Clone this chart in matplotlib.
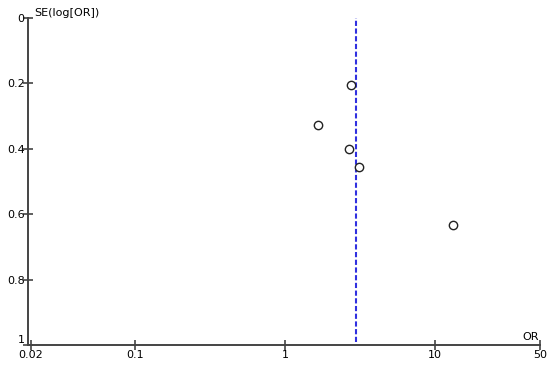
import matplotlib
matplotlib.use("Agg")
import matplotlib.pyplot as plt

# study estimates (odds ratio, standard error of log OR)
odds_ratio = [2.75, 1.65, 2.64, 3.10, 13.1]
se_log_or = [0.206, 0.328, 0.400, 0.457, 0.634]
pooled_or = 2.97

x_ticks = [0.02, 0.1, 1, 10, 50]
x_tick_labels = ["0.02", "0.1", "1", "10", "50"]
y_ticks = [0, 0.2, 0.4, 0.6, 0.8, 1]
y_tick_labels = ["0", "0.2", "0.4", "0.6", "0.8", "1"]

fig = plt.figure(figsize=(5.5, 3.67), dpi=100)
ax = fig.add_axes([0.051, 0.06, 0.931, 0.891])

ax.set_xscale("log")
ax.set_xlim(0.0192, 50)
ax.set_ylim(1, 0)

ax.plot([pooled_or, pooled_or], [0.99, 0], color="#3030e0", lw=1.5,
        linestyle=(0, (2.5, 1.2)), clip_on=False)
ax.plot(odds_ratio, se_log_or, "o", mfc="white", mec="#222222", mew=1.0, ms=6)

for s in ["top", "right"]:
    ax.spines[s].set_visible(False)
for s in ["left", "bottom"]:
    ax.spines[s].set_color("#444444")
    ax.spines[s].set_linewidth(1.4)

ax.set_xticks(x_ticks)
ax.set_xticklabels(x_tick_labels)
ax.minorticks_off()
ax.set_yticks(y_ticks)
ax.set_yticklabels(y_tick_labels)
ax.tick_params(direction="inout", length=7, width=1.2, color="#444444",
               labelsize=8)
ax.tick_params(axis="x", pad=0)
ax.tick_params(axis="y", pad=-1)
# lift the bottom y label a touch so it clears "0.02"
ax.get_yticklabels()[-1].set_va("bottom")

ax.text(0.012, 1.0, "SE(log[OR])", transform=ax.transAxes, fontsize=8,
        va="bottom", ha="left")
ax.text(0.998, 0.008, "OR", transform=ax.transAxes, fontsize=8,
        va="bottom", ha="right")

plt.savefig("out.png", dpi=100)
